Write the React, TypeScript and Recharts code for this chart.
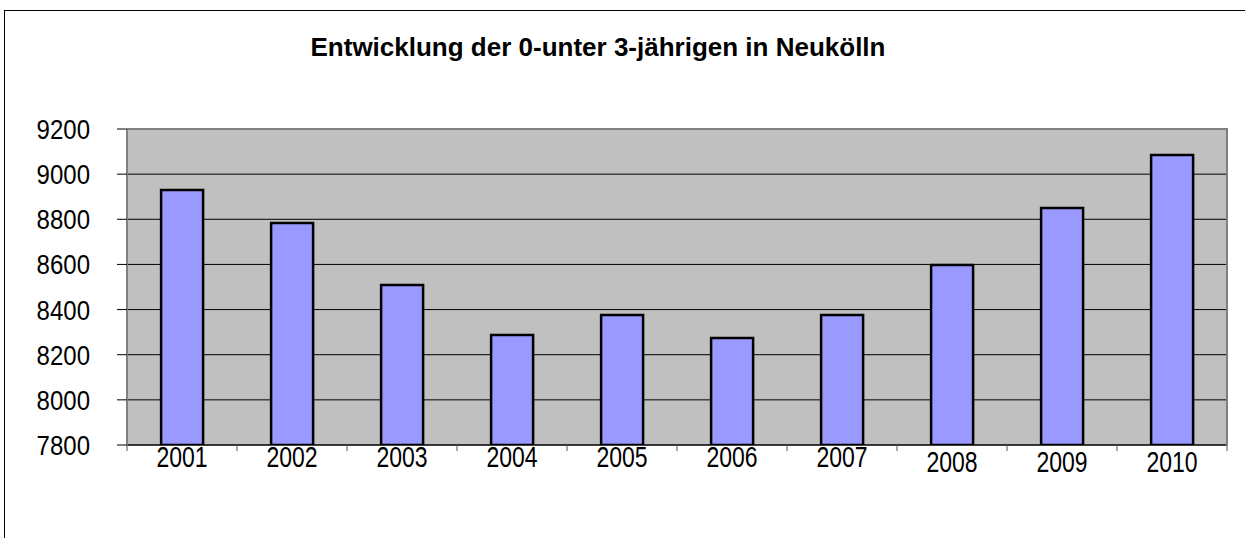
import { BarChart, Bar, XAxis, YAxis, CartesianGrid } from "recharts";

const years = ["2001", "2002", "2003", "2004", "2005", "2006", "2007", "2008", "2009", "2010"];
const children = [8930, 8784, 8509, 8287, 8376, 8274, 8376, 8597, 8850, 9085];
const yTicks = [7800, 8000, 8200, 8400, 8600, 8800, 9000, 9200];

const chartData = years.map((year, i) => ({ year, value: children[i] }));

const font = "'Liberation Sans', Arial, sans-serif";

// year label plus the tick marks on the category boundaries;
// the last three labels sit a little lower, as in the original
function YearTick(props: any) {
  const { x, y, payload, index, width, visibleTicksCount } = props;
  const half = width / (visibleTicksCount || years.length) / 2;
  const drop = index >= 7 ? 5 : 0;
  return (
    <g>
      {index === 0 && (
        <line x1={x - half} x2={x - half} y1={y} y2={y + 6} stroke="#555" />
      )}
      <line x1={x + half} x2={x + half} y1={y} y2={y + 6} stroke="#555" />
      <text
        transform={`translate(${x}, ${y + 22 + drop}) scale(1, 1.25)`}
        textAnchor="middle"
        fontSize={23}
        fontFamily={font}
        fill="#000"
      >
        {payload.value}
      </text>
    </g>
  );
}

// stretched a bit vertically like the original Excel export
function ValueTick(props: any) {
  const { x, y, payload } = props;
  return (
    <text
      transform={`translate(${x}, ${y + 10}) scale(1, 1.17)`}
      textAnchor="end"
      fontSize={24}
      fontFamily={font}
      fill="#000"
    >
      {payload.value}
    </text>
  );
}

export default function App() {
  return (
    <div
      style={{
        position: "absolute",
        left: 0,
        top: 0,
        width: 1245,
        height: 538,
        background: "#fff",
        overflow: "hidden",
      }}
    >
      <div
        style={{
          position: "absolute",
          left: 4,
          top: 10,
          width: 1300,
          height: 600,
          borderLeft: "1px solid #000",
          borderTop: "1px solid #000",
        }}
      />
      <div
        style={{
          position: "absolute",
          left: 0,
          top: 32,
          width: 1196,
          textAlign: "center",
          fontFamily: font,
          fontWeight: "bold",
          fontSize: 26,
        }}
      >
        Entwicklung der 0-unter 3-jährigen in Neukölln
      </div>
      <div style={{ position: "absolute", left: 0, top: 0 }}>
        <BarChart
          width={1245}
          height={538}
          data={chartData}
          margin={{ top: 129, right: 18, bottom: 63, left: 0 }}
          barCategoryGap="31%"
        >
          <CartesianGrid
            vertical={false}
            stroke="#000"
            strokeWidth={1}
            fill="#C0C0C0"
            fillOpacity={1}
          />
          <XAxis
            dataKey="year"
            height={30}
            tickSize={0}
            tickMargin={0}
            tickLine={false}
            axisLine={{ stroke: "#000", strokeWidth: 1 }}
            tick={<YearTick />}
            interval={0}
          />
          <YAxis
            domain={[7800, 9200]}
            ticks={yTicks}
            width={127}
            tickSize={10}
            tickMargin={27}
            axisLine={{ stroke: "#808080", strokeWidth: 2 }}
            tickLine={{ stroke: "#000" }}
            tick={<ValueTick />}
            allowDataOverflow
          />
          <Bar
            dataKey="value"
            fill="#9999FF"
            stroke="#000"
            strokeWidth={2.5}
            isAnimationActive={false}
          />
        </BarChart>
      </div>
      <div
        style={{
          position: "absolute",
          left: 127,
          top: 128,
          width: 1099,
          height: 316,
          borderTop: "2px solid #808080",
          borderRight: "2px solid #808080",
          pointerEvents: "none",
        }}
      />
    </div>
  );
}
